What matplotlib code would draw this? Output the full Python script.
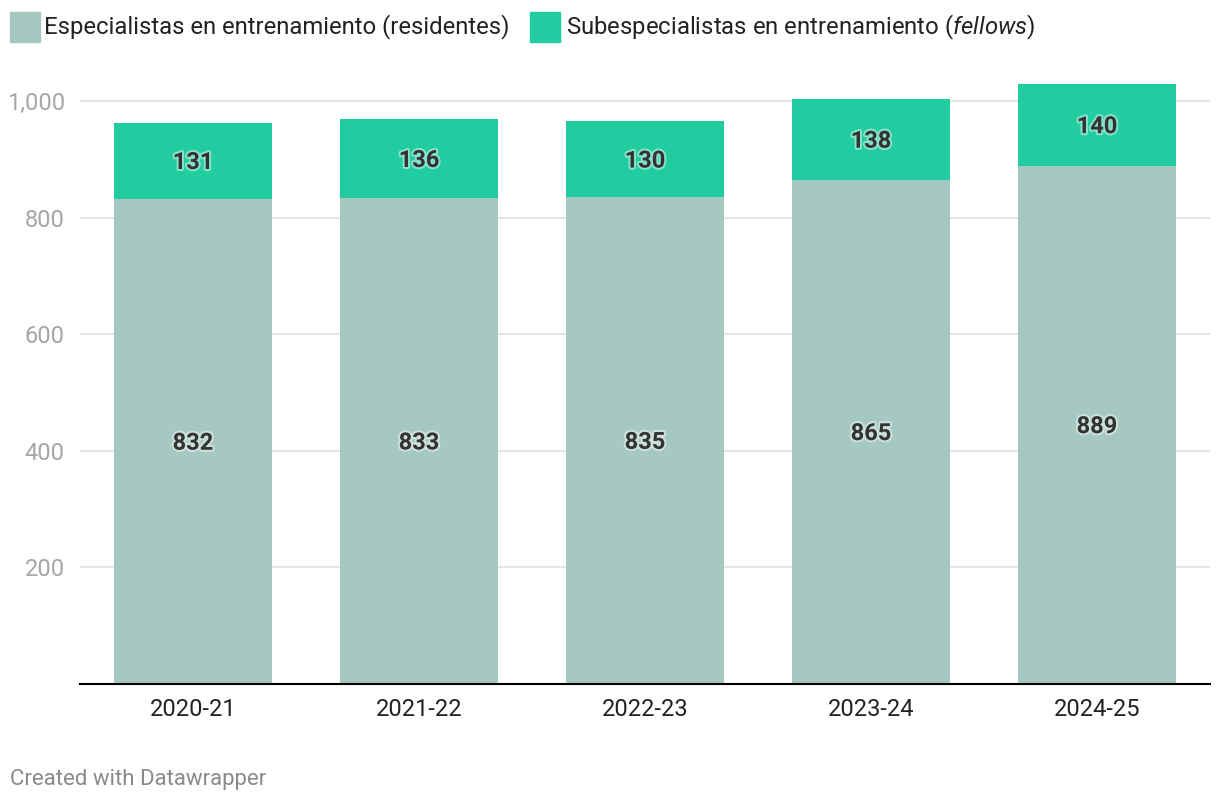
import matplotlib
matplotlib.use('Agg')
from matplotlib import pyplot as plt
from matplotlib.patches import Rectangle
import matplotlib.patheffects as pe

# data
years = ['2020-21', '2021-22', '2022-23', '2023-24', '2024-25']
residentes = [832, 833, 835, 865, 889]
fellows = [131, 136, 130, 138, 140]

col_res = '#a5c9c0'
col_fel = '#21cca0'

plt.rcParams['font.family'] = ['Roboto', 'DejaVu Sans']
plt.rcParams['mathtext.fontset'] = 'custom'
plt.rcParams['mathtext.rm'] = 'Roboto'
plt.rcParams['mathtext.it'] = 'Roboto:italic'

fig = plt.figure(figsize=(12.2, 8.06), dpi=100)
ax = fig.add_axes([80 / 1220, 122 / 806, 1130 / 1220, 604 / 806])

x = range(len(years))
ax.bar(x, residentes, width=0.7, color=col_res, zorder=2)
ax.bar(x, fellows, width=0.7, bottom=residentes, color=col_fel, zorder=2)

# soft white glow behind the value labels
halo = [pe.withStroke(linewidth=3, foreground='white', alpha=0.45)]
for i in x:
    ax.text(i, residentes[i] / 2 - 3, str(residentes[i]), ha='center', va='center',
            fontsize=17, fontweight='bold', color='#333333', path_effects=halo, zorder=3)
    ax.text(i, residentes[i] + fellows[i] / 2 - 3, str(fellows[i]), ha='center', va='center',
            fontsize=17, fontweight='bold', color='#333333', path_effects=halo, zorder=3)

ax.set_xlim(-0.5, 4.5)
ax.set_ylim(0, 604 / 0.583)
ax.set_yticks([200, 400, 600, 800, 1000])
ax.set_yticklabels(['200', '400', '600', '800', '1,000'])
ax.set_xticks(list(x))
ax.set_xticklabels(years)
ax.tick_params(axis='y', length=0, pad=11, labelsize=17, labelcolor='#a6a6a6')
ax.tick_params(axis='x', length=0, pad=10, labelsize=17, labelcolor='#222222')
ax.grid(axis='y', color='#e2e2e2', linewidth=1.2, zorder=0)
for s in ['top', 'right', 'left']:
    ax.spines[s].set_visible(False)
ax.spines['bottom'].set_linewidth(1.5)
ax.spines['bottom'].set_color('#000000')
ax.spines['bottom'].set_zorder(4)

# legend
fig.patches.append(Rectangle((10 / 1220, 1 - 42 / 806), 30 / 1220, 30 / 806,
                             transform=fig.transFigure, color=col_res))
fig.text(44 / 1220, 1 - 27 / 806, 'Especialistas en entrenamiento (residentes)',
         fontsize=17.2, color='#222222', va='center', ha='left')
fig.patches.append(Rectangle((530 / 1220, 1 - 42 / 806), 30 / 1220, 30 / 806,
                             transform=fig.transFigure, color=col_fel))
fig.text(566 / 1220, 1 - 27 / 806, r'Subespecialistas en entrenamiento ($\mathit{fellows}$)',
         fontsize=17.2, color='#222222', va='center', ha='left')

fig.text(10 / 1220, 1 - 780 / 806, 'Created with Datawrapper',
         fontsize=16, color='#8a8a8a', va='center', ha='left')

plt.savefig('out.png', dpi=100)
